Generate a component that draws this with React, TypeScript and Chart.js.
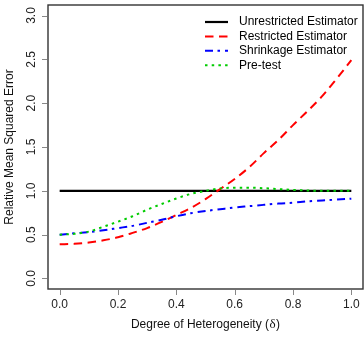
import React, { useEffect, useRef } from "react";
import { Chart, registerables } from "chart.js";

Chart.register(...registerables);

// Degree of heterogeneity (delta) grid
const delta = [0, 0.05, 0.1, 0.15, 0.2, 0.25, 0.3, 0.35, 0.4, 0.45, 0.5, 0.55, 0.6, 0.65, 0.7, 0.75, 0.8, 0.85, 0.9, 0.95, 1.0];

// Relative MSE of each estimator
const unrestricted = [1, 1, 1, 1, 1, 1, 1, 1, 1, 1, 1, 1, 1, 1, 1, 1, 1, 1, 1, 1, 1];
const restricted = [0.39, 0.395, 0.41, 0.435, 0.47, 0.52, 0.575, 0.645, 0.725, 0.805, 0.905, 1.02, 1.135, 1.27, 1.43, 1.58, 1.75, 1.91, 2.08, 2.28, 2.49];
const shrinkage = [0.5, 0.515, 0.53, 0.55, 0.575, 0.6, 0.635, 0.67, 0.71, 0.745, 0.77, 0.79, 0.81, 0.825, 0.84, 0.855, 0.865, 0.88, 0.89, 0.9, 0.91];
const pretest = [0.5, 0.51, 0.535, 0.59, 0.648, 0.71, 0.785, 0.85, 0.912, 0.965, 1.0, 1.028, 1.035, 1.035, 1.03, 1.02, 1.01, 1.004, 1.0, 1.0, 1.0];

const seriesLabels = ["Unrestricted Estimator", "Restricted Estimator", "Shrinkage Estimator", "Pre-test"];

const xTicks = [0, 0.2, 0.4, 0.6, 0.8, 1.0];
const xTickLabels = ["0.0", "0.2", "0.4", "0.6", "0.8", "1.0"];
const yTicks = [0, 0.5, 1.0, 1.5, 2.0, 2.5, 3.0];
const yTickLabels = ["0.0", "0.5", "1.0", "1.5", "2.0", "2.5", "3.0"];

const xTitleMain = "Degree of Heterogeneity (";
const xTitleSymbol = "\u03b4";
const xTitleEnd = ")";
const yTitle = "Relative Mean Squared Error";

const SANS = '"Liberation Sans", Arial, sans-serif';
const SERIF = '"Liberation Serif", "DejaVu Serif", serif';

const toPoints = (ys: number[]) => ys.map((v, i) => ({ x: delta[i], y: v }));

// Base-graphics style frame: box, outward ticks, rotated y labels, titles, legend
const framePlugin = {
  id: "baseFrame",
  afterDraw(chart: any) {
    const { ctx, chartArea: a, scales } = chart;
    const xs = scales.x;
    const ys = scales.y;
    ctx.save();

    // plot box
    ctx.setLineDash([]);
    ctx.strokeStyle = "#333";
    ctx.lineWidth = 1.4;
    ctx.strokeRect(a.left, a.top, a.right - a.left, a.bottom - a.top);

    // tick marks
    ctx.strokeStyle = "#888";
    ctx.lineWidth = 1;
    xTicks.forEach((v) => {
      const px = Math.round(xs.getPixelForValue(v)) + 0.5;
      ctx.beginPath();
      ctx.moveTo(px, a.bottom + 1);
      ctx.lineTo(px, a.bottom + 6);
      ctx.stroke();
    });
    yTicks.forEach((v) => {
      const py = Math.round(ys.getPixelForValue(v)) + 0.5;
      ctx.beginPath();
      ctx.moveTo(a.left - 1, py);
      ctx.lineTo(a.left - 6, py);
      ctx.stroke();
    });

    // tick labels
    ctx.font = `12px ${SANS}`;
    ctx.fillStyle = "#222";
    ctx.textAlign = "center";
    ctx.textBaseline = "middle";
    xTicks.forEach((v, i) => {
      ctx.fillText(xTickLabels[i], xs.getPixelForValue(v), a.bottom + 16);
    });
    yTicks.forEach((v, i) => {
      ctx.save();
      ctx.translate(a.left - 16.5, ys.getPixelForValue(v));
      ctx.rotate(-Math.PI / 2);
      ctx.fillText(yTickLabels[i], 0, 0);
      ctx.restore();
    });

    // axis titles
    ctx.fillStyle = "#111";
    const cx = (a.left + a.right) / 2;
    ctx.font = `12px ${SANS}`;
    const w1 = ctx.measureText(xTitleMain).width;
    const w3 = ctx.measureText(xTitleEnd).width;
    ctx.font = `13px ${SERIF}`;
    const w2 = ctx.measureText(xTitleSymbol).width + 1;
    let tx = cx - (w1 + w2 + w3) / 2;
    const ty = a.bottom + 36;
    ctx.textAlign = "left";
    ctx.font = `12px ${SANS}`;
    ctx.fillText(xTitleMain, tx, ty);
    tx += w1;
    ctx.font = `13px ${SERIF}`;
    ctx.fillText(xTitleSymbol, tx + 0.5, ty);
    tx += w2;
    ctx.font = `12px ${SANS}`;
    ctx.fillText(xTitleEnd, tx, ty);

    ctx.save();
    ctx.translate(9.5, (a.top + a.bottom) / 2);
    ctx.rotate(-Math.PI / 2);
    ctx.textAlign = "center";
    ctx.fillText(yTitle, 0, 0);
    ctx.restore();

    // legend (no frame)
    const datasets = chart.data.datasets;
    datasets.forEach((ds: any, i: number) => {
      const rowY = a.top + 17 + i * 14.4;
      ctx.setLineDash(ds.borderDash || []);
      ctx.strokeStyle = ds.borderColor;
      ctx.lineWidth = ds.borderWidth;
      ctx.lineCap = "butt";
      ctx.beginPath();
      ctx.moveTo(a.right - 158, rowY);
      ctx.lineTo(a.right - 135, rowY);
      ctx.stroke();
      ctx.setLineDash([]);
      ctx.fillStyle = "#000";
      ctx.font = `12px ${SANS}`;
      ctx.textAlign = "left";
      ctx.textBaseline = "middle";
      ctx.fillText(ds.label, a.right - 124, rowY);
    });

    ctx.restore();
  },
};

export default function App() {
  const canvasRef = useRef<HTMLCanvasElement | null>(null);

  useEffect(() => {
    const canvas = canvasRef.current;
    if (!canvas) return;
    const chart = new Chart(canvas, {
      type: "line",
      data: {
        datasets: [
          {
            label: seriesLabels[0],
            data: toPoints(unrestricted),
            borderColor: "#000000",
            borderWidth: 2.2,
            borderDash: [],
            order: 4,
          },
          {
            label: seriesLabels[1],
            data: toPoints(restricted),
            borderColor: "#ff0000",
            borderWidth: 2,
            borderDash: [8.5, 5.5],
            order: 3,
          },
          {
            label: seriesLabels[2],
            data: toPoints(shrinkage),
            borderColor: "#0000ff",
            borderWidth: 2,
            borderDash: [8, 4.5, 2.5, 5],
            order: 2,
          },
          {
            label: seriesLabels[3],
            data: toPoints(pretest),
            borderColor: "#00cc00",
            borderWidth: 2,
            borderDash: [2.5, 4.2],
            order: 1,
          },
        ],
      },
      options: {
        responsive: false,
        animation: false,
        devicePixelRatio: 1,
        layout: { padding: { left: 48, top: 5, right: 1, bottom: 50 } },
        elements: {
          point: { radius: 0, hoverRadius: 0 },
          line: { fill: false, cubicInterpolationMode: "monotone" },
        },
        scales: {
          x: { type: "linear", min: -0.04, max: 1.04, display: false },
          y: { type: "linear", min: -0.12, max: 3.12, display: false },
        },
        plugins: {
          legend: { display: false },
          tooltip: { enabled: false },
        },
      },
      plugins: [framePlugin],
    });
    return () => chart.destroy();
  }, []);

  return (
    <div style={{ position: "absolute", left: 0, top: 0, width: 364, height: 339, background: "#fff" }}>
      <canvas ref={canvasRef} width={364} height={339} style={{ display: "block" }} />
    </div>
  );
}
